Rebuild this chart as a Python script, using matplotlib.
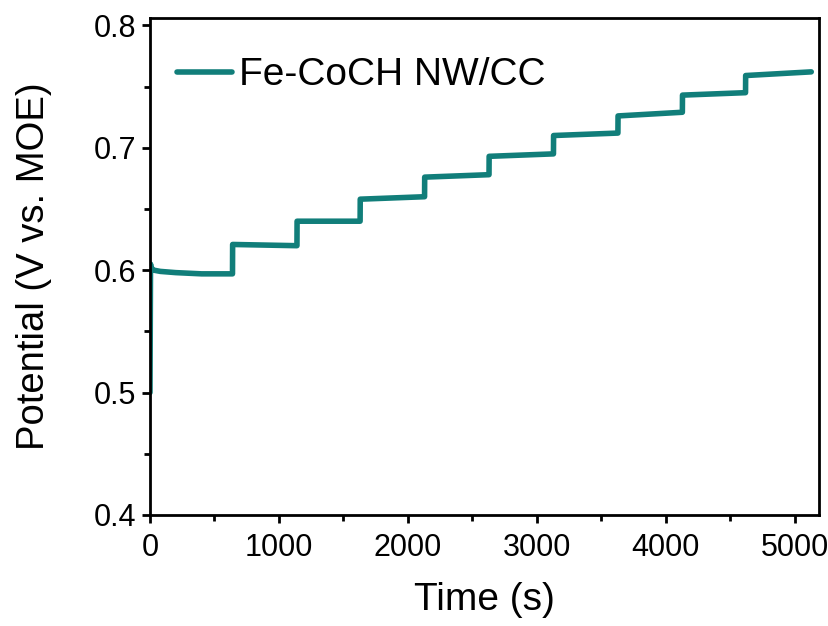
import matplotlib
matplotlib.use("Agg")
import matplotlib.pyplot as plt
from matplotlib.ticker import MultipleLocator

# chronopotentiometry trace
time_s = [0, 4, 8, 30, 80, 200, 400, 640,
          641, 1140, 1141, 1630, 1631, 2130, 2131, 2630,
          2631, 3130, 3131, 3630, 3631, 4130, 4131, 4620, 4621, 5130]
potential_v = [0.500, 0.605, 0.602, 0.600, 0.599, 0.598, 0.597, 0.597,
               0.621, 0.620, 0.640, 0.640, 0.658, 0.660, 0.676, 0.678,
               0.693, 0.695, 0.710, 0.712, 0.726, 0.729, 0.743, 0.745, 0.759, 0.762]

LINE_COLOR = "#117e7a"

plt.rcParams['font.family'] = ['Liberation Sans', 'DejaVu Sans']

fig = plt.figure(figsize=(8.29, 6.26), dpi=100)
ax = fig.add_axes([150 / 829, 1 - 515 / 626, 669 / 829, 497 / 626])

ax.plot(time_s, potential_v, color=LINE_COLOR, lw=4, solid_capstyle="round",
        solid_joinstyle="round", label="Fe-CoCH NW/CC")

ax.set_xlim(0, 5190)
ax.set_ylim(0.4, 0.806)
ax.xaxis.set_major_locator(MultipleLocator(1000))
ax.xaxis.set_minor_locator(MultipleLocator(500))
ax.yaxis.set_major_locator(MultipleLocator(0.1))
ax.yaxis.set_minor_locator(MultipleLocator(0.05))

ax.tick_params(which="major", direction="out", length=6, width=2, labelsize=22, pad=4)
ax.tick_params(axis="x", which="major", pad=7)
ax.tick_params(which="minor", direction="out", length=4, width=2)
for s in ax.spines.values():
    s.set_linewidth(2)

ax.set_xlabel("Time (s)", fontsize=28, labelpad=14)
ax.set_ylabel("Potential (V vs. MOE)", fontsize=27.5, labelpad=30)

ax.legend(loc="upper left", frameon=False, fontsize=28, handlelength=1.4,
          handletextpad=0.2, bbox_to_anchor=(0.0, 0.976), borderaxespad=0.3)

fig.savefig("out.png", dpi=100)
